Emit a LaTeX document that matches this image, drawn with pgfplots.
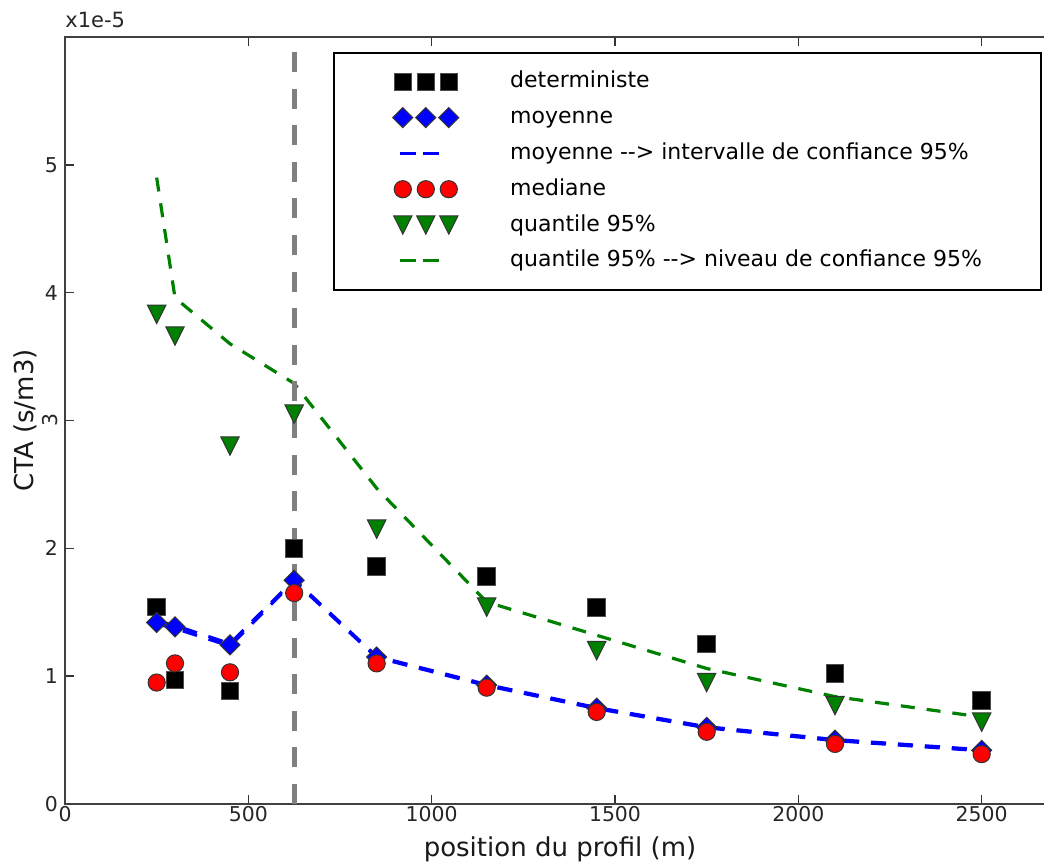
\documentclass[border=0pt]{standalone}
\usepackage{fontspec}
\setmainfont{DejaVu Sans}
\usepackage{graphicx}
\usepackage{pgfplots}
\usepackage{pgfplotstable}
\pgfplotsset{compat=1.18}

\pgfdeclareplotmark{mpldiamond}{%
 \pgfpathmoveto{\pgfqpoint{0pt}{\pgfplotmarksize}}%
 \pgfpathlineto{\pgfqpoint{\pgfplotmarksize}{0pt}}%
 \pgfpathlineto{\pgfqpoint{0pt}{-\pgfplotmarksize}}%
 \pgfpathlineto{\pgfqpoint{-\pgfplotmarksize}{0pt}}%
 \pgfpathclose\pgfusepathqfillstroke}
\pgfdeclareplotmark{mpltri}{%
 \pgfpathmoveto{\pgfqpoint{0pt}{-\pgfplotmarksize}}%
 \pgfpathlineto{\pgfqpoint{\pgfplotmarksize}{\pgfplotmarksize}}%
 \pgfpathlineto{\pgfqpoint{-\pgfplotmarksize}{\pgfplotmarksize}}%
 \pgfpathclose\pgfusepathqfillstroke}

\definecolor{mplgreen}{rgb}{0,0.5,0}

\pgfplotsset{
  threemarks/.style={legend image code/.code={\draw[##1, only marks] plot coordinates {(0pt,0pt) (11.5pt,0pt) (23pt,0pt)};}},
  shortdash/.style={legend image code/.code={\draw[##1, dash pattern=on 8pt off 3.5pt] (-1.5pt,0pt) -- (19.5pt,0pt);}},
}

\pgfplotstableread{
x    det   moy   cilo  cihi  med   q95   q95cl
250  1.54  1.42  1.408 1.432 0.95  3.83  4.90
300  0.97  1.385 1.373 1.397 1.10  3.66  3.96
450  0.885 1.245 1.235 1.255 1.03  2.80  3.60
625  2.00  1.75  1.744 1.756 1.65  3.05  3.29
850  1.86  1.15  1.145 1.155 1.10  2.15  2.47
1150 1.78  0.93  0.925 0.935 0.91  1.54  1.58
1450 1.535 0.75  0.745 0.755 0.72  1.20  1.32
1750 1.25  0.60  0.595 0.605 0.565 0.95  1.06
2100 1.02  0.50  0.495 0.505 0.47  0.77  0.84
2500 0.81  0.42  0.415 0.425 0.39  0.64  0.68
}\data

\begin{document}
\begin{tikzpicture}
\useasboundingbox (0,0) rectangle (522pt,432.5pt);
\clip (0,0) rectangle (522pt,432.5pt);
\begin{axis}[
 name=ax,
 at={(32.5pt,30.5pt)}, anchor=south west,
 scale only axis, width=495pt, height=383.5pt,
 xmin=0, xmax=2700, ymin=0, ymax=6,
 xtick={0,500,1000,1500,2000,2500},
 xticklabels={0,500,1000,1500,2000,2500},
 ytick={0,1,2,3,4,5},
 yticklabels={0,1,2,{\rotatebox{90}{3}},4,5},
 tick align=inside, major tick length=4.5pt,
 tick style={black!80, line width=0.8pt},
 axis line style={black!75, line width=1.3pt},
 tick label style={font=\fontsize{10.2pt}{12pt}\selectfont, text=black!85},
 xticklabel style={inner ysep=0.8pt},
 xlabel={position du profil (m)},
 ylabel={CTA (s/m3)},
 label style={font=\fontsize{13pt}{15pt}\selectfont, text=black!90},
 xlabel style={at={(axis description cs:0.5,0)}, anchor=base, yshift=-26.5pt},
 ylabel style={at={(axis description cs:-0.032,0.5)}, anchor=base},
 legend cell align=left,
 legend style={at={(axis description cs:0.2707,0.9804)}, anchor=north west,
   draw=black, line width=0.8pt, fill=white,
   inner xsep=29.5pt, inner ysep=8.5pt, row sep=5.9pt, column sep=25.7pt,
   font=\fontsize{11pt}{13pt}\selectfont,
   nodes={inner sep=0pt, text height=9pt, text depth=3pt}},
]
\addplot[only marks, mark=square*, mark size=4.4pt,
  mark options={solid, fill=black, draw=black!70, line width=0.5pt}, threemarks]
  table[x=x, y=det]{\data};
\addlegendentry{deterministe}
\addplot[only marks, mark=mpldiamond, mark size=5pt,
  mark options={solid, fill=blue, draw=black!80, line width=0.5pt}, threemarks]
  table[x=x, y=moy]{\data};
\addlegendentry{moyenne}
\addplot[blue, line width=1.5pt, dash pattern=on 7.5pt off 6pt, shortdash]
  table[x=x, y=cilo]{\data};
\addlegendentry{moyenne -{}-> intervalle de confiance 95\%}
\addplot[blue, line width=1.5pt, dash pattern=on 7.5pt off 6pt, forget plot]
  table[x=x, y=cihi]{\data};
\addplot[only marks, mark=*, mark size=4.3pt,
  mark options={solid, fill=red, draw=black!80, line width=0.5pt}, threemarks]
  table[x=x, y=med]{\data};
\addlegendentry{mediane}
\addplot[only marks, mark=mpltri, mark size=4.6pt,
  mark options={solid, fill=mplgreen, draw=black!80, line width=0.5pt}, threemarks]
  table[x=x, y=q95]{\data};
\addlegendentry{quantile 95\%}
\addplot[mplgreen, line width=1.6pt, dash pattern=on 7pt off 6pt, shortdash]
  table[x=x, y=q95cl]{\data};
\addlegendentry{quantile 95\% -{}-> niveau de confiance 95\%}
\addplot[gray, line width=2.5pt, dash pattern=on 10pt off 8.3pt, forget plot]
  coordinates {(625,0) (625,6)};
\end{axis}
\node[anchor=base west, inner sep=0pt, font=\fontsize{10.5pt}{12pt}\selectfont, text=black!85]
  at ([yshift=4.5pt]ax.north west) {x1e-5};
\end{tikzpicture}
\end{document}
